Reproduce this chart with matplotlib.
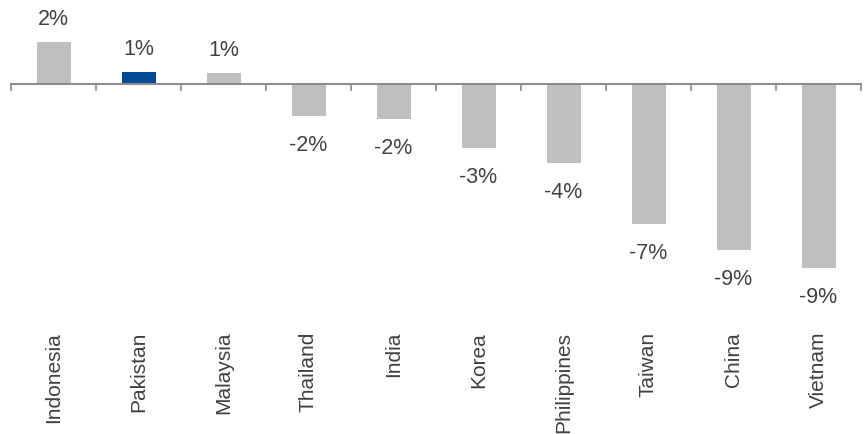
import matplotlib
matplotlib.use("Agg")
import matplotlib.pyplot as plt
import matplotlib.transforms as mtransforms
import numpy as np

plt.rcParams['font.family'] = ['Liberation Sans', 'DejaVu Sans']

countries = ["Indonesia", "Pakistan", "Malaysia", "Thailand", "India",
             "Korea", "Philippines", "Taiwan", "China", "Vietnam"]
change_pct = [2.16, 0.63, 0.58, -1.63, -1.80, -3.29, -4.08, -7.21, -8.53, -9.46]
highlight = "Pakistan"

gray = "#BFBFBF"
blue = "#004B93"
text_color = "#404040"
axis_color = "#8C8C8C"

W, H = 866, 435
fig = plt.figure(figsize=(W / 100, H / 100), dpi=100)

# axes spans pixel x 11..861, y 0..325 (top-down)
ax = fig.add_axes([11 / W, 1 - 325 / H, 850 / W, 325 / H])
px_per_unit = 19.45
ax.set_ylim(-(325 - 85) / px_per_unit, 85 / px_per_unit)
ax.set_xlim(-0.5, len(countries) - 0.5)

x = np.arange(len(countries))
colors = [blue if c == highlight else gray for c in countries]
ax.bar(x, change_pct, width=0.4, color=colors, zorder=2)

for xi, v in zip(x, change_pct):
    if v >= 0:
        ax.annotate(f"{v:.0f}%", (xi, v), xytext=(0, 9), textcoords="offset points",
                    ha="center", va="bottom", fontsize=15.5, color=text_color)
    else:
        ax.annotate(f"{v:.0f}%", (xi, v), xytext=(0, -13), textcoords="offset points",
                    ha="center", va="top", fontsize=15.5, color=text_color)

for s in ["top", "right", "left"]:
    ax.spines[s].set_visible(False)
ax.spines["bottom"].set_position(("data", 0))
ax.spines["bottom"].set_color(axis_color)
ax.spines["bottom"].set_linewidth(1.5)
ax.spines["bottom"].set_zorder(3)

ax.set_yticks([])
ax.set_xticks(np.arange(-0.5, len(countries), 1.0))
ax.tick_params(axis="x", direction="out", length=5, width=1.2, color=axis_color,
               labelbottom=False)

trans = mtransforms.blended_transform_factory(ax.transData, fig.transFigure)
for xi, name in zip(x, countries):
    ax.text(xi, 1 - 332 / H, name, rotation=90, ha="center", va="top",
            fontsize=15, color=text_color, transform=trans)

fig.savefig("out.png", dpi=100)
